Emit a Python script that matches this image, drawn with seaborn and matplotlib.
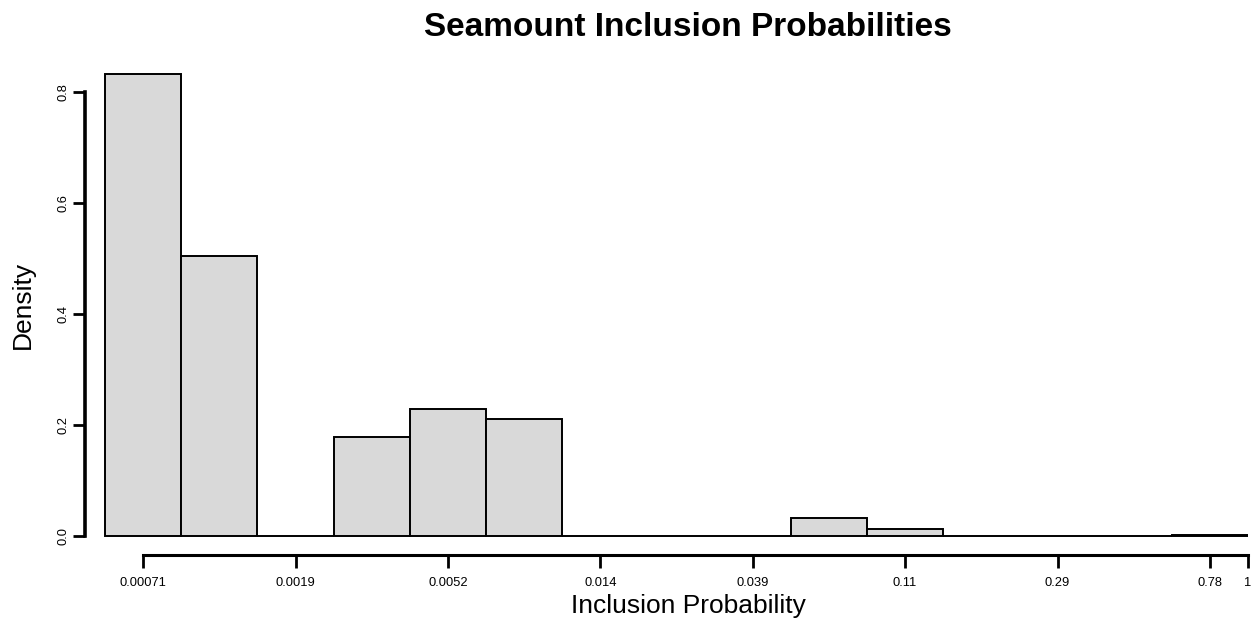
import numpy as np
import pandas as pd
import matplotlib
matplotlib.use("Agg")
import matplotlib.pyplot as plt
import seaborn as sns

# Histogram of log(inclusion probability); bins of width 0.5 on the natural-log scale
bin_edges = [-7.5, -7.0, -6.5, -6.0, -5.5, -5.0, -4.5, -4.0, -3.5,
             -3.0, -2.5, -2.0, -1.5, -1.0, -0.5, 0.0]
bin_centers = [-7.25, -6.75, -6.25, -5.75, -5.25, -4.75, -4.25, -3.75,
               -3.25, -2.75, -2.25, -1.75, -1.25, -0.75, -0.25]
bin_counts = [416, 252, 0, 89, 114, 105, 0, 0, 0, 16, 6, 0, 0, 0, 1]

tick_positions = [-7.25, -6.25, -5.25, -4.25, -3.25, -2.25, -1.25, -0.25, 0.0]
tick_labels = ["0.00071", "0.0019", "0.0052", "0.014", "0.039", "0.11", "0.29", "0.78", "1"]
y_ticks = [0.0, 0.2, 0.4, 0.6, 0.8]
y_labels = ["0.0", "0.2", "0.4", "0.6", "0.8"]

sns.set_style("white")
plt.rcParams['font.family'] = ['Liberation Sans', 'DejaVu Sans']
plt.rcParams['text.color'] = 'black'
plt.rcParams['axes.labelcolor'] = 'black'
plt.rcParams['xtick.color'] = 'black'
plt.rcParams['ytick.color'] = 'black'

df = pd.DataFrame({"logp": bin_centers, "count": bin_counts})

fig = plt.figure(figsize=(12.58, 6.25), dpi=100)
ax = fig.add_axes([85/1258, 1 - 555/625, (1248 - 85)/1258, (555 - 64.25)/625])

sns.histplot(data=df, x="logp", weights="count", bins=bin_edges, stat="density",
             color="#D9D9D9", edgecolor="black", linewidth=1.4, alpha=1, ax=ax)

ax.set_xlim(-7.5 - 20/152.4, 0.0)
ax.set_ylim(-19/555, 0.85)

for s in ["top", "right"]:
    ax.spines[s].set_visible(False)
ax.spines["left"].set_bounds(0, 0.8)
ax.spines["bottom"].set_bounds(tick_positions[0], tick_positions[-1])
ax.spines["left"].set_linewidth(2.6)
ax.spines["bottom"].set_linewidth(2.2)
ax.spines["left"].set_color("black")
ax.spines["bottom"].set_color("black")

ax.set_xticks(tick_positions)
ax.set_xticklabels(tick_labels, fontsize=9.3)
ax.set_yticks(y_ticks)
ax.set_yticklabels(y_labels, fontsize=9.3, rotation=90, va="center")
ax.tick_params(axis="both", direction="out", length=9, width=2, color="black",
               bottom=True, left=True)
ax.tick_params(axis="x", pad=7)
ax.tick_params(axis="y", pad=2)

ax.set_xlabel("Inclusion Probability", fontsize=19)
ax.set_ylabel("Density", fontsize=19)
ax.xaxis.set_label_coords((688 - 85)/(1248 - 85), -(594 - 555)/(555 - 64.25))
ax.yaxis.set_label_coords((35 - 85)/(1248 - 85), (555 - 305)/(555 - 64.25))

fig.text(688/1258, 1 - 28/625, "Seamount Inclusion Probabilities", ha="center", va="center",
         fontsize=24, fontweight="bold", color="black")

fig.savefig("out.png", dpi=100)
